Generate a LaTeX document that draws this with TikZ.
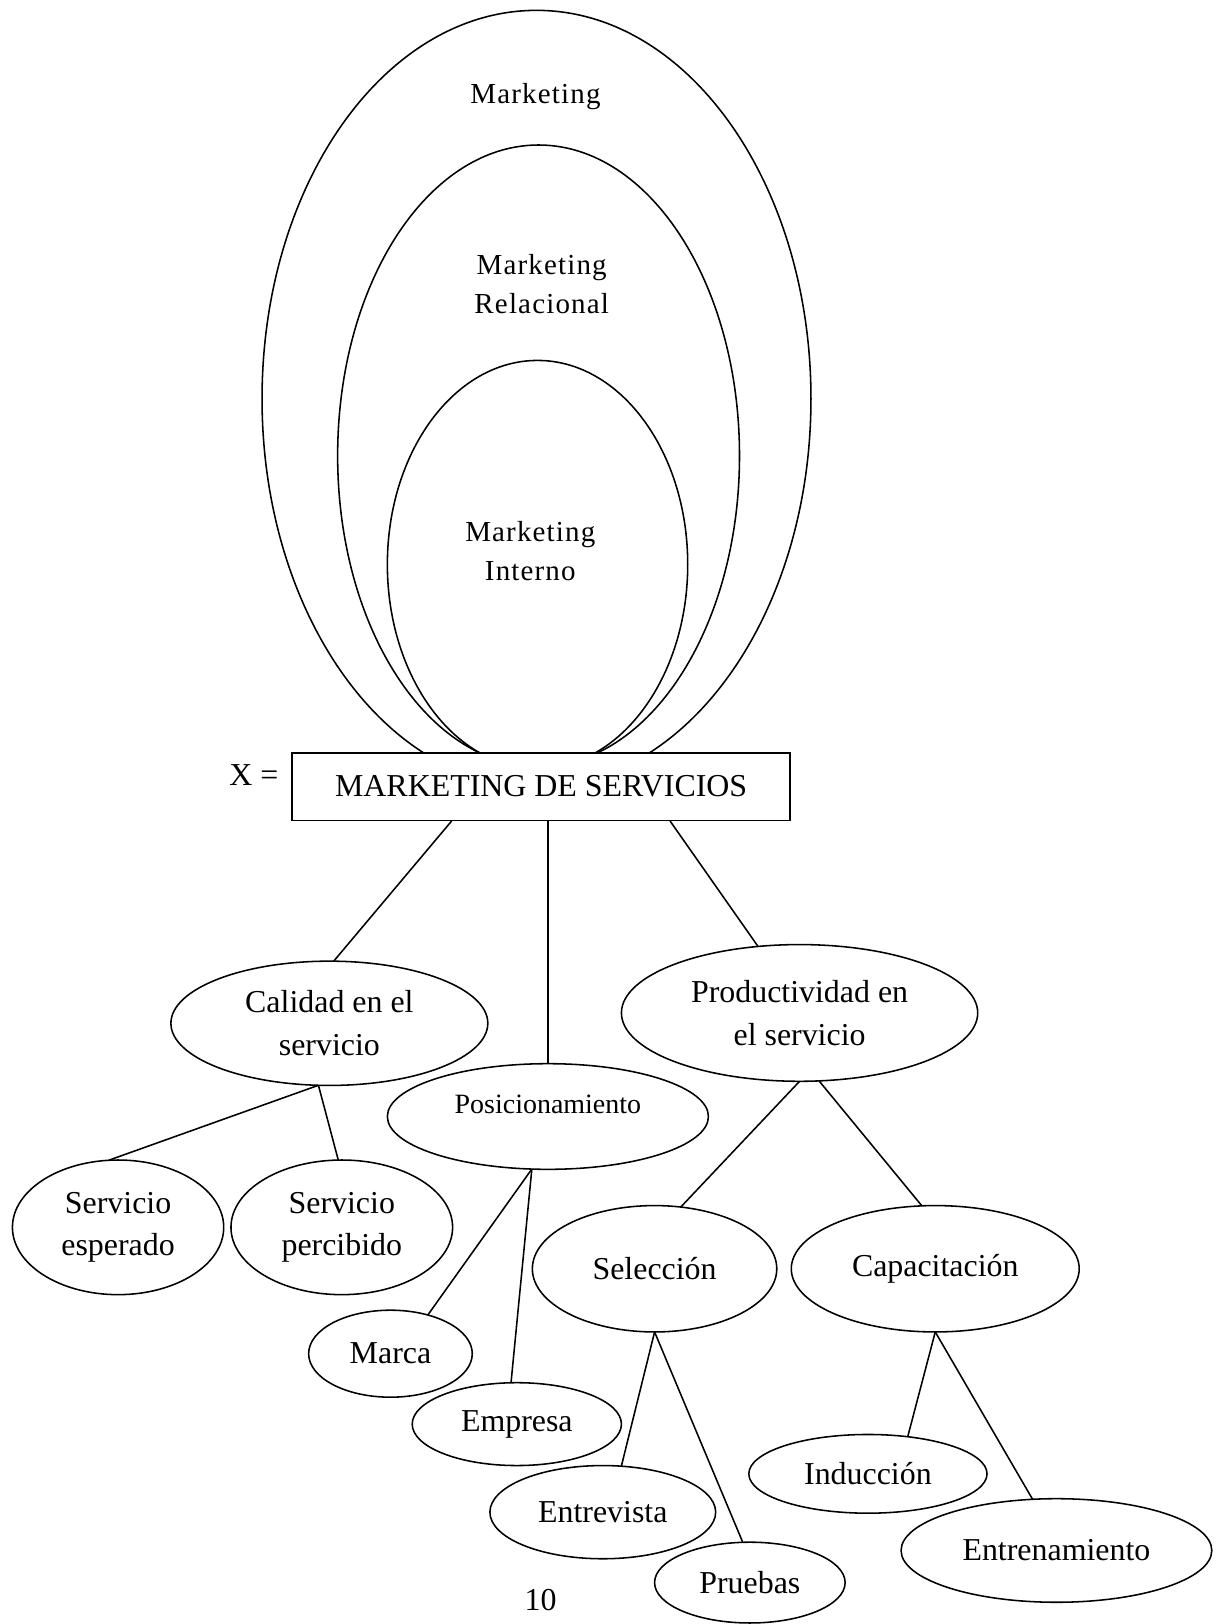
\documentclass[tikz,border=0pt]{standalone}
\usepackage{fontspec}
\setmainfont{Liberation Serif}
\newfontfamily\mkfont[LetterSpace=4]{Liberation Serif}
\usetikzlibrary{shapes.geometric,calc}
\begin{document}
\begin{tikzpicture}[x=0.5pt,y=-0.5pt,
  every node/.style={font=\fontsize{15.4pt}{20.5pt}\selectfont},
  ell/.style={ellipse,draw,line width=0.75pt,inner sep=0pt,outer sep=0pt,align=center},
  bigell/.style={ellipse,draw,line width=0.75pt,inner sep=0pt,outer sep=0pt},
  mk/.style={font=\mkfont\fontsize{14pt}{19pt}\selectfont,align=center},
  conn/.style={line width=0.75pt}]
\useasboundingbox (0,0) rectangle (1180,1568);
% nested ellipses
\node[bigell,minimum width=265pt,minimum height=375pt] (outer) at (518,385) {};
\node[bigell,minimum width=194pt,minimum height=300pt] (middle) at (520,440) {};
\node[bigell,minimum width=145pt,minimum height=197pt] (inner) at (519,545) {};
\node[mk] (t1) at (517,93) {Marketing};
\node[mk] (t2) at (523,274) {Marketing\\Relacional};
\node[mk] (t3) at (512,532) {Marketing\\Interno};
% main box
\node[draw,fill=white,line width=0.75pt,minimum width=240.5pt,minimum height=32.5pt,inner sep=0pt] (ms) at (522.5,759.5) {MARKETING DE SERVICIOS};
\node (xeq) at (245,748) {X =};
% level 1
\node[ell,minimum width=153pt,minimum height=60pt] (cal) at (318,988) {Calidad en el\\servicio};
\node[ell,minimum width=155pt,minimum height=51pt] (pos) at (529,1078) {};
\node[font=\fontsize{13.5pt}{16pt}\selectfont] (posT) at (529,1066) {Posicionamiento};
\node[ell,minimum width=172pt,minimum height=66pt] (prod) at (772,978) {Productividad en\\el servicio};
% level 2
\node[ell,minimum width=102pt,minimum height=65pt] (esp) at (114,1185) {Servicio\\esperado};
\node[ell,minimum width=107pt,minimum height=65pt] (perc) at (330,1185) {Servicio\\percibido};
\node[ell,minimum width=79pt,minimum height=42pt] (marca) at (377,1307) {Marca};
\node[ell,minimum width=101pt,minimum height=40pt] (emp) at (499,1375) {Empresa};
\node[ell,minimum width=118pt,minimum height=61pt] (sel) at (632,1225) {Selección};
\node[ell,minimum width=139pt,minimum height=61pt] (cap) at (903,1225) {Capacitación};
% level 3
\node[ell,minimum width=109pt,minimum height=45pt] (entrev) at (582,1460) {Entrevista};
\node[ell,minimum width=92pt,minimum height=39pt] (prue) at (724,1528) {Pruebas};
\node[ell,minimum width=115pt,minimum height=38pt] (ind) at (838,1423) {Inducción};
\node[ell,minimum width=150pt,minimum height=50pt] (entren) at (1020,1497) {Entrenamiento};
\node (pg) at (522,1545) {10};
% connectors
\draw[conn] ($(ms.south)+(-86.5,0)$) -- (cal.86);
\draw[conn] (pos.north) -- (pos.north |- ms.south);
\draw[conn] ($(ms.south)+(124.5,0)$) -- (prod.122);
\draw[conn] (cal.-100) -- (esp.98);
\draw[conn] (cal.-100) -- (perc.93);
\draw[conn] (pos.-107) -- (marca.46);
\draw[conn] (pos.-107) -- (emp.98);
\draw[conn] (prod.-90) -- (sel.67);
\draw[conn] (prod.-74) -- (cap.102);
\draw[conn] (sel.-90) -- (entrev.68);
\draw[conn] (sel.-90) -- (prue.100);
\draw[conn] (cap.-90) -- (ind.43);
\draw[conn] (cap.-90) -- (entren.115);
\end{tikzpicture}
\end{document}
